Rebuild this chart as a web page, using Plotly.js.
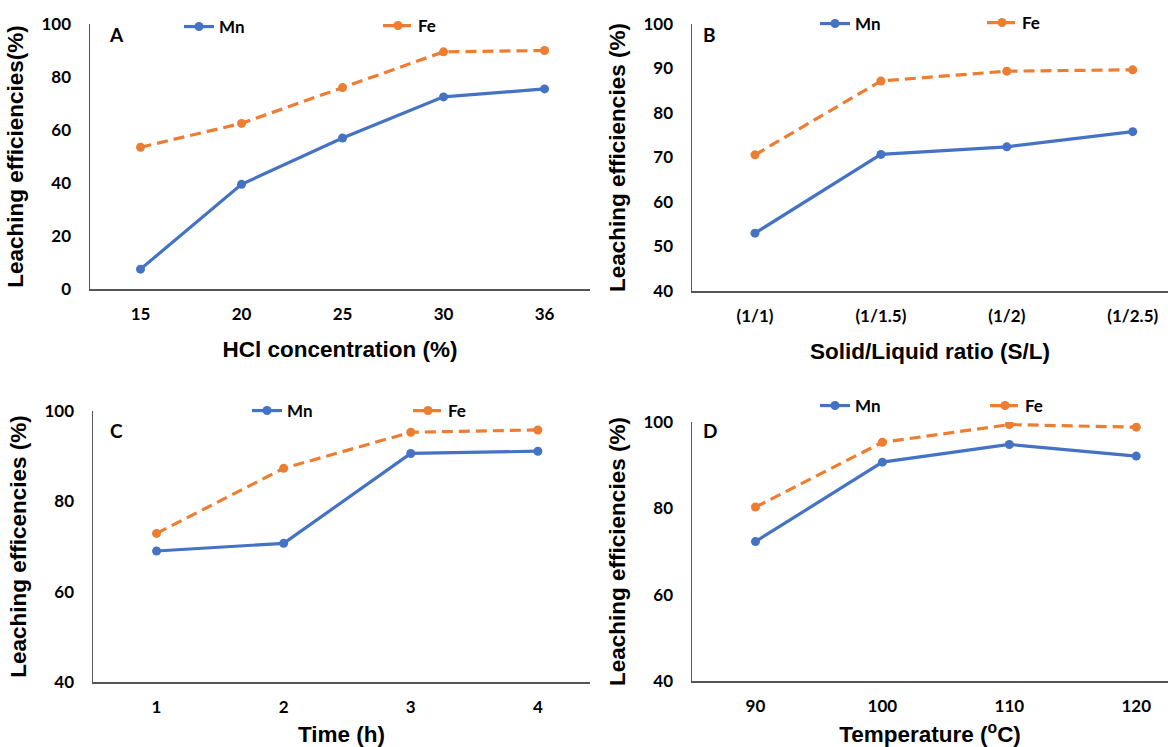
<!DOCTYPE html>
<html><head><meta charset="utf-8">
<script src="https://cdn.plot.ly/plotly-3.0.1.min.js"></script>
<style>html,body{margin:0;padding:0;background:#fff;overflow:hidden}#chart{width:1168px;height:747px}</style>
</head><body><div id="chart"></div>
<script>
const hclConc = ['15','20','25','30','36'];
const hclMn = [7.5, 39.5, 57, 72.5, 75.5];
const hclFe = [53.5, 62.5, 76, 89.5, 90];

const slRatio = ['(1/1)','(1/1.5)','(1/2)','(1/2.5)'];
const slMn = [53, 70.7, 72.4, 75.8];
const slFe = [70.6, 87.2, 89.4, 89.7];

const timeH = ['1','2','3','4'];
const timeMn = [69, 70.7, 90.6, 91.1];
const timeFe = [72.9, 87.3, 95.3, 95.8];

const tempC = ['90','100','110','120'];
const tempMn = [72.3, 90.7, 94.8, 92.1];
const tempFe = [80.3, 95.3, 99.4, 98.8];

const MN = '#4472C4', FE = '#ED7D31';
function mk(x, y, name, n, legend) {
  const isFe = name === 'Fe';
  return {
    type: 'scatter', mode: 'lines+markers', x: x, y: y, name: name,
    xaxis: 'x' + (n === 1 ? '' : n), yaxis: 'y' + (n === 1 ? '' : n),
    legend: legend,
    line: {color: isFe ? FE : MN, width: 3.2, dash: isFe ? '11px,6px' : 'solid'},
    marker: {color: isFe ? FE : MN, size: 9}
  };
}
const data = [
  mk(hclConc, hclMn, 'Mn', 1, 'legend'), mk(hclConc, hclFe, 'Fe', 1, 'legend2'),
  mk(slRatio, slMn, 'Mn', 2, 'legend3'), mk(slRatio, slFe, 'Fe', 2, 'legend4'),
  mk(timeH, timeMn, 'Mn', 3, 'legend5'), mk(timeH, timeFe, 'Fe', 3, 'legend6'),
  mk(tempC, tempMn, 'Mn', 4, 'legend7'), mk(tempC, tempFe, 'Fe', 4, 'legend8')
];

const tickF = {family: 'Lato', size: 17, color: '#000', weight: 'bold'};
const titleF = {family: 'Liberation Sans, Arial', size: 22.5, color: '#000', weight: 'bold'};
function xa(domain, range, title, anchor) {
  return {domain: domain, type: 'category', range: range, anchor: anchor,
    showline: true, linecolor: '#555', linewidth: 1.5, showgrid: false, zeroline: false,
    ticks: '', ticklabelstandoff: 9, tickfont: tickF,
    title: {text: title, font: titleF, standoff: 18}, fixedrange: true};
}
function ya(domain, range, dtick, title, anchor) {
  return {domain: domain, range: range, dtick: dtick, anchor: anchor,
    showline: true, linecolor: '#555', linewidth: 1.5, showgrid: false, zeroline: false,
    ticks: '', ticklabelstandoff: 14, tickfont: tickF,
    title: {text: title, font: titleF, standoff: 11}, fixedrange: true};
}
const H = 747, W = 1168;
function lg(px, py) {
  return {orientation: 'h', x: (px - 41) / W, y: 1 - py / H, xanchor: 'left', yanchor: 'middle',
    font: {family: 'Lato', size: 17, color: '#000', weight: 'bold'},
    bgcolor: 'rgba(0,0,0,0)'};
}
const layout = {
  width: W, height: H, margin: {l: 0, r: 0, t: 0, b: 0},
  paper_bgcolor: '#fff', plot_bgcolor: '#fff', showlegend: true,
  xaxis: xa([90/W, 590/W], [-0.5, 4.45], 'HCl concentration (%)', 'y'),
  yaxis: ya([1-289/H, 1-24/H], [0, 100], 20, 'Leaching efficiencies(%)', 'x'),
  xaxis2: xa([692/W, 1], [-0.5, 3.28], 'Solid/Liquid ratio (S/L)', 'y2'),
  yaxis2: ya([1-291/H, 1-24/H], [40, 100], 10, 'Leaching efficiencies (%)', 'x2'),
  xaxis3: xa([93/W, 590/W], [-0.5, 3.41], 'Time (h)', 'y3'),
  yaxis3: ya([1-682/H, 1-411/H], [40, 100], 20, 'Leaching efficencies (%)', 'x3'),
  xaxis4: xa([692/W, 1], [-0.5, 3.25], 'Temperature (<sup>o</sup>C)', 'y4'),
  yaxis4: ya([1-681/H, 1-422/H], [40, 100], 20, 'Leaching efficiencies (%)', 'x4'),
  legend: lg(220, 27), legend2: lg(419, 26),
  legend3: lg(856, 24), legend4: lg(1023, 23),
  legend5: lg(288, 411), legend6: lg(449, 411),
  legend7: lg(856, 406), legend8: lg(1026, 406),
  annotations: [
    {text: 'A', x: 116/W, y: 1-34/H},
    {text: 'B', x: 709/W, y: 1-34/H},
    {text: 'C', x: 116/W, y: 1-431/H},
    {text: 'D', x: 710/W, y: 1-430/H}
  ].map(a => Object.assign(a, {xref: 'paper', yref: 'paper', showarrow: false,
    xanchor: 'center', yanchor: 'middle', font: {family: 'Lato', size: 19, color: '#000', weight: 'bold'}}))
};
Plotly.newPlot('chart', data, layout, {displayModeBar: false, staticPlot: true});
</script>
</body></html>
